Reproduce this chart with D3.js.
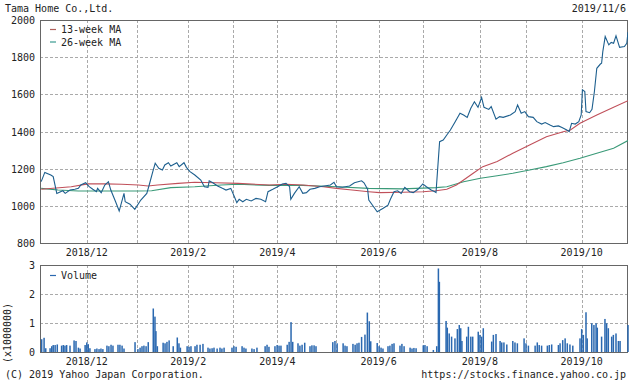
<!DOCTYPE html>
<html>
<head>
<meta charset="utf-8">
<script src="https://cdn.jsdelivr.net/npm/d3@7"></script>
<style>
body { margin: 0; background: #fff; }
text { font-family: "DejaVu Sans Mono", monospace; font-size: 10px; fill: #222; }
</style>
</head>
<body>
<svg width="630" height="382"></svg>
<script>
var title = "Tama Home Co.,Ltd.",
    asOf = "2019/11/6";

// x axis is trading-day index, ticks at month starts
var tickDays = [19.5, 40.5, 61.8, 80.5, 98.9, 123.2, 141.1, 159.7, 183.3, 202.4, 225.7];
var tickLabels = ["2018/12", "", "2019/2", "", "2019/4", "", "2019/6", "", "2019/8", "", "2019/10"];
var priceTicks = [800, 1000, 1200, 1400, 1600, 1800, 2000];
var volTicks = [0, 1, 2, 3];

// [day, close]
var closePrice = [[0.5,1130],[2,1180],[4.5,1166],[5.5,1157],[7,1067],[9.5,1081],[10.5,1067],[12.5,1085],
  [14.5,1089],[16,1094],[17,1112],[19,1124],[20.5,1103],[22,1089],[23.5,1076],[24,1094],[25.5,1071],
  [27,1112],[28.5,1130],[29.5,1085],[31.5,1022],[33,972],[35,1067],[35.5,1022],[37.5,1009],[39.5,981],
  [42,1031],[44.5,1067],[45.5,1112],[47,1184],[48,1229],[49.5,1202],[51,1193],[52,1220],[53.5,1232],
  [54.5,1214],[57,1232],[58,1211],[60,1232],[61,1207],[62.5,1184],[64.5,1166],[67,1139],[68.5,1103],
  [70,1100],[70.5,1135],[72,1124],[74,1107],[76,1094],[77.5,1085],[79.5,1094],[81,1049],[82,1017],
  [83,1035],[84.5,1022],[86,1035],[88,1026],[90,1040],[92,1035],[94,1022],[95,1076],[97,1089],[99,1103],
  [101,1118],[102.5,1121],[104,1103],[104.5,1035],[106,1067],[108,1103],[109.5,1067],[111,1071],
  [112.5,1089],[114.5,1094],[116.5,1103],[118.5,1107],[121,1112],[122.5,1127],[123.5,1103],[126,1100],
  [129,1107],[131,1124],[134,1135],[135,1124],[136.5,1089],[137,1031],[139,995],[140.5,968],[143,987],
  [145,1004],[146,1035],[147.5,1076],[149,1081],[150.5,1067],[152,1100],[154,1076],[155.5,1071],
  [157.5,1089],[159.5,1118],[161,1103],[163,1085],[164.5,1076],[165,1072],[166.5,1345],[168,1354],
  [169.5,1381],[171,1408],[173,1453],[175,1498],[176.5,1489],[178,1476],[179.5,1525],[181,1560],
  [182.5,1530],[184,1584],[185,1530],[187,1519],[188,1534],[190,1466],[191.5,1480],[193,1476],[196,1489],
  [198,1507],[199,1543],[200.5,1498],[202,1507],[203.5,1480],[205.5,1476],[207,1453],[209,1440],
  [210.5,1448],[212.5,1435],[214,1426],[216,1430],[217.5,1422],[219.5,1408],[220.5,1399],[221.5,1444],
  [223,1440],[224.5,1453],[225.5,1489],[226,1624],[227,1615],[227.5,1507],[229,1501],[230,1519],
  [231,1615],[232,1740],[233.5,1763],[234,1767],[234.5,1830],[235.5,1911],[237,1866],[238,1879],
  [239,1875],[240,1915],[241.5,1853],[243.5,1857],[244.5,1875],[245,1935]];

var ma13 = [[0.5,1089],[13,1103],[20,1118],[27,1118],[34,1116],[41,1112],[45,1107],[49,1112],[57.5,1121],
  [64.5,1127],[73,1124],[82.5,1121],[95.5,1112],[102.5,1116],[109.5,1112],[118,1103],[123.5,1094],
  [130,1085],[137,1076],[141.5,1071],[151,1073],[159.5,1076],[165,1081],[169.5,1089],[173.5,1112],
  [176.5,1139],[180.5,1175],[184.5,1211],[190.5,1238],[197,1283],[204,1327],[211,1372],[218,1399],
  [221,1408],[225,1444],[232,1489],[239,1530],[245,1566]];

var ma26 = [[0.5,1094],[7.5,1085],[16,1080],[27,1080],[41,1080],[46.5,1081],[54.5,1098],[64.5,1103],
  [75.5,1112],[82.5,1116],[95.5,1110],[109.5,1110],[123.5,1103],[137,1094],[151,1091],[165,1098],
  [169.5,1103],[176.5,1130],[183.5,1148],[190.5,1162],[197,1175],[204,1193],[211,1211],[218,1232],
  [225,1256],[232,1283],[239,1310],[245,1351]];

// [day, volume in millions]
var volume = [[0.7,0.44],[1.7,0.49],[2.4,0.13],[4.2,0.13],[4.9,0.2],[5.5,0.24],[6.3,0.24],[7.2,0.26],
  [9,0.22],[9.7,0.24],[10.4,0.22],[11.1,0.24],[12.5,0.22],[14.2,0.4],[15,0.38],[16,0.15],[16.7,0.12],
  [18.8,0.24],[19.5,0.33],[20.1,0.27],[20.8,0.13],[22.9,0.1],[23.7,0.12],[24.6,0.1],[25.4,0.12],[26.2,0.1],
  [27.9,0.22],[28.7,0.2],[29.6,0.25],[30.4,0.22],[32.5,0.25],[33.3,0.25],[34.2,0.22],[35,0.12],
  [39.6,0.34],[40.8,0.1],[41.7,0.15],[42.5,0.2],[43.3,0.22],[44.2,0.2],[45.1,0.34],[47.2,1.5],[47.9,1.22],
  [48.3,0.72],[48.9,0.2],[51.3,0.32],[52.1,0.3],[52.9,0.35],[53.8,0.4],[55.5,0.2],[57.2,0.5],[57.9,0.3],
  [58.5,0.15],[61.3,0.2],[62.1,0.18],[62.9,0.2],[64.6,0.2],[65.4,0.25],[66.7,0.25],[67.9,0.28],[70,0.15],
  [70.8,0.12],[71.7,0.13],[72.5,0.15],[73.8,0.12],[75,0.15],[75.8,0.12],[76.7,0.15],[80,0.15],[80.8,0.2],
  [81.7,0.18],[84.2,0.2],[85,0.15],[85.8,0.12],[88.3,0.12],[89.2,0.1],[90.4,0.15],[93.8,0.2],[94.6,0.25],
  [95.4,0.18],[97.9,0.2],[98.8,0.24],[99.6,0.22],[100.4,0.22],[103,0.25],[103.8,0.35],[104.6,1.03],
  [105.3,0.35],[107.5,0.3],[108.3,0.22],[109.2,0.25],[110.3,0.32],[112.5,0.2],[113.3,0.23],[114.2,0.23],
  [115,0.2],[122,0.34],[122.9,0.38],[123.8,0.3],[126.3,0.3],[127.1,0.22],[127.9,0.2],[130.4,0.28],
  [131.3,0.25],[132.1,0.3],[132.9,0.32],[134,0.52],[135.4,0.6],[136.4,1.36],[137.2,1.06],[137.8,0.37],
  [140.5,0.31],[141.3,0.2],[142.1,0.15],[142.9,0.12],[145,0.2],[145.8,0.22],[146.7,0.28],[147.5,0.3],
  [150,0.22],[150.8,0.28],[151.7,0.2],[154.2,0.15],[155,0.12],[155.8,0.14],[156.7,0.13],[159.7,0.23],
  [160.4,0.24],[161.3,0.2],[163.9,0.07],[165.3,0.2],[166,2.88],[166.4,2.42],[169.2,1.07],[169.7,0.84],
  [170.5,0.64],[171.5,0.53],[172.9,0.47],[173.9,0.79],[174.7,0.93],[175.3,0.82],[175.8,0.38],[177.8,0.53],
  [178.5,0.87],[179.5,0.53],[180.3,0.53],[182.6,0.7],[183.3,0.59],[184,0.53],[184.7,0.82],[188.2,0.36],
  [188.9,0.59],[190,0.62],[191.7,0.38],[192.4,0.33],[193.3,0.33],[194.5,0.26],[197,0.38],[197.9,0.33],
  [198.9,0.3],[201.7,0.47],[202.5,0.3],[203.5,0.22],[206.3,0.22],[207.2,0.33],[208,0.24],[209,0.22],
  [211.4,0.22],[212.2,0.24],[213.2,0.26],[216,0.24],[216.7,0.3],[217.8,0.41],[218.8,0.47],[219.7,0.3],
  [220.8,0.26],[222,0.22],[225,0.47],[225.7,0.79],[226.4,0.59],[227.5,1.37],[228,0.47],[229.9,0.99],
  [230.8,0.93],[231.7,0.99],[232.2,0.84],[234,0.53],[235.4,1.14],[236.1,0.99],[236.8,0.82],[238.2,0.53],
  [238.9,0.59],[240,0.64],[241,0.38],[241.7,0.38],[245,0.93]];

var svg = d3.select("svg");

var left = 40, right = 628,
    pTop = 20, pBottom = 243,
    vTop = 265, vBottom = 352;

var x = d3.scaleLinear().domain([0, 245]).range([left, right]);
var yP = d3.scaleLinear().domain([800, 2000]).range([pBottom, pTop]);
var yV = d3.scaleLinear().domain([0, 3]).range([vBottom, vTop]);

// titles
svg.append("text").attr("x", 5).attr("y", 12).text(title);
svg.append("text").attr("x", 626).attr("y", 12).attr("text-anchor", "end").text(asOf);
svg.append("text").attr("x", 5).attr("y", 378).text("(C) 2019 Yahoo Japan Corporation.");
svg.append("text").attr("x", 626).attr("y", 378).attr("text-anchor", "end").text("https://stocks.finance.yahoo.co.jp");

function panel(y, ticks, top, bottom, fmt) {
    var g = svg.append("g");
    // horizontal grid
    g.selectAll(".hg").data(ticks.slice(1, -1)).enter().append("line")
        .attr("x1", left).attr("x2", right)
        .attr("y1", function (d) { return Math.round(y(d)) + 0.5; })
        .attr("y2", function (d) { return Math.round(y(d)) + 0.5; })
        .style("stroke", "#aaa").style("stroke-dasharray", "3,2");
    // vertical grid
    g.selectAll(".vg").data(tickDays).enter().append("line")
        .attr("x1", function (d) { return Math.round(x(d)) + 0.5; })
        .attr("x2", function (d) { return Math.round(x(d)) + 0.5; })
        .attr("y1", top).attr("y2", bottom)
        .style("stroke", "#aaa").style("stroke-dasharray", "3,2");
    g.append("rect").attr("x", left + 0.5).attr("y", top + 0.5)
        .attr("width", right - left - 1).attr("height", bottom - top)
        .style("fill", "none").style("stroke", "#666");
    // y labels
    g.selectAll(".yl").data(ticks).enter().append("text")
        .attr("x", 35).attr("y", function (d) { return y(d) + 4; })
        .attr("text-anchor", "end").text(fmt);
    // x labels
    g.selectAll(".xl").data(tickDays).enter().append("text")
        .attr("x", function (d) { return x(d); })
        .attr("y", bottom + 13)
        .attr("text-anchor", "middle")
        .text(function (d, i) { return tickLabels[i]; });
    return g;
}

panel(yP, priceTicks, pTop, pBottom, function (d) { return d; });
panel(yV, volTicks, vTop, vBottom, function (d) { return d; });

svg.append("text")
    .attr("transform", "translate(11,333) rotate(-90)")
    .attr("text-anchor", "middle")
    .text("(x1000000)");

// volume bars
svg.append("g").selectAll("rect").data(volume).enter().append("rect")
    .attr("x", function (d) { return x(d[0]) - 0.75; })
    .attr("width", 1.5)
    .attr("y", function (d) { return yV(d[1]); })
    .attr("height", function (d) { return yV(0) - yV(d[1]); })
    .style("fill", "#2a68b0");

var line = d3.line()
    .x(function (d) { return x(d[0]); })
    .y(function (d) { return yP(d[1]); });

var clip = svg.append("clipPath").attr("id", "pclip").append("rect")
    .attr("x", left).attr("y", pTop).attr("width", right - left).attr("height", pBottom - pTop);

var series = [
    { data: ma26, color: "#3a9a78" },
    { data: ma13, color: "#c0505a" },
    { data: closePrice, color: "#1d5f8e" }
];
series.forEach(function (s) {
    svg.append("path").datum(s.data)
        .attr("d", line)
        .attr("clip-path", "url(#pclip)")
        .style("fill", "none")
        .style("stroke", s.color)
        .style("stroke-width", 1.1);
});

// legends
var legend = [
    { label: "13-week MA", color: "#b0605a", y: 33 },
    { label: "26-week MA", color: "#3a9a90", y: 45.5 },
    { label: "Volume", color: "#2a68b0", y: 279 }
];
legend.forEach(function (l) {
    svg.append("line").attr("x1", 50).attr("x2", 56)
        .attr("y1", l.y - 3.5).attr("y2", l.y - 3.5)
        .style("stroke", l.color).style("stroke-width", 1.2);
    svg.append("text").attr("x", 61).attr("y", l.y).text(l.label);
});
</script>
</body>
</html>
